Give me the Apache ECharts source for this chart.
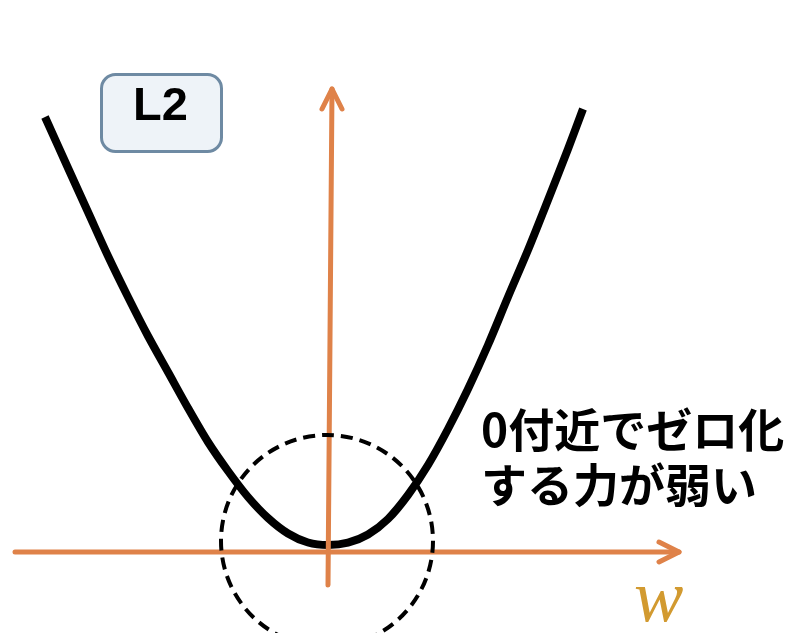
<!DOCTYPE html>
<html>
<head>
<meta charset="utf-8">
<script src="https://cdn.jsdelivr.net/npm/echarts@6/dist/echarts.min.js"></script>
<style>
html,body{margin:0;padding:0;background:#fff;}
#chart{width:792px;height:633px;}
</style>
</head>
<body>
<div id="chart"></div>
<script>
// Curve L2 penalty (w, value)
const curveW = [-283, -260, -240, -220, -200, -180, -160, -140, -120, -100, -80, -60, -40, -20, 0, 20, 40, 60, 80, 100, 120, 140, 160, 180, 200, 220, 240, 255];
const curveL = [435, 384, 340, 296, 255, 216, 180, 144, 110, 81, 55, 34, 18.5, 9.5, 7, 9.3, 17.5, 33, 57, 87, 123, 163, 207, 255, 302, 352, 403, 443];
// axes (w axis and vertical axis) with chevron arrow heads
const hAxisLine = [[-313, 0], [351, 0]];
const hArrow = [[331, 10], [351, 0], [331, -10]];
const vAxisLine = [[0, -33], [4, 463]];
const vArrow = [[-6, 443], [4, 463], [14, 443]];
// dashed circle around origin
const circleCenter = [[-1, 11]];
const labelBox = 'L2';
const noteLines = ['0付近でゼロ化', 'する力が弱い'];
const axisName = 'w';

const chart = echarts.init(document.getElementById('chart'));
const orange = '#DF8249';
const axisStyle = {color: orange, width: 5, cap: 'round', join: 'round'};
chart.setOption({
  animation: false,
  grid: {left: 0, right: 0, top: 0, bottom: 0},
  xAxis: {type: 'value', min: -328, max: 464, show: false},
  yAxis: {type: 'value', min: -81, max: 552, show: false},
  series: [
    {
      type: 'line', smooth: 0.3, symbol: 'none', z: 2,
      data: curveW.map((w, i) => [w, curveL[i]]),
      lineStyle: {color: '#000', width: 8, cap: 'butt', join: 'round'}
    },
    {type: 'line', symbol: 'none', z: 3, data: hAxisLine, lineStyle: axisStyle},
    {type: 'line', symbol: 'none', z: 3, data: hArrow, lineStyle: axisStyle},
    {type: 'line', symbol: 'none', z: 3, data: vAxisLine, lineStyle: axisStyle},
    {type: 'line', symbol: 'none', z: 3, data: vArrow, lineStyle: axisStyle},
    {
      type: 'scatter', z: 4, symbol: 'circle', symbolSize: 212,
      data: circleCenter,
      itemStyle: {color: 'rgba(0,0,0,0)', borderColor: '#000', borderWidth: 4, borderType: [12, 7], opacity: 1},
      silent: true
    }
  ],
  graphic: [
    {
      type: 'rect', left: 100, top: 73, z: 10,
      shape: {width: 120, height: 77, r: 14},
      style: {fill: '#EEF3F8', stroke: '#6E8AA3', lineWidth: 3}
    },
    {
      type: 'text', left: 133, top: 84, z: 11,
      style: {text: labelBox, font: 'bold 47px "Liberation Sans", Arial, sans-serif', fill: '#000'}
    },
    {
      type: 'text', left: 481, top: 402, z: 11,
      style: {text: noteLines.join('\n'), font: 'bold 46px "Noto Sans CJK JP", sans-serif', fill: '#000', lineHeight: 55}
    },
    {
      type: 'text', left: 634, top: 565, z: 11,
      style: {text: axisName, font: 'italic 74px "Liberation Serif", "DejaVu Serif", serif', fill: '#D29A30'}
    }
  ]
});
</script>
</body>
</html>
